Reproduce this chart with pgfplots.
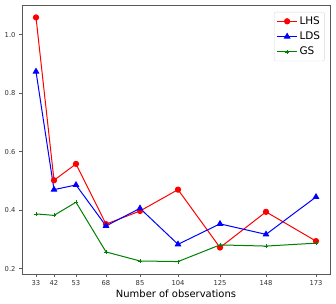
\documentclass[border=0pt]{standalone}
\usepackage{pgfplots}
\pgfplotsset{compat=1.18}
\usepackage{fontspec}
\setmainfont{DejaVu Sans}
\definecolor{mplgreen}{rgb}{0,0.5,0}
\definecolor{framegray}{rgb}{0.35,0.35,0.35}
\begin{document}
\begin{tikzpicture}
\useasboundingbox (-22bp,-30bp) rectangle (314bp,274bp);
\begin{axis}[
  at={(0,0)}, anchor=south west,
  scale only axis, width=308bp, height=269bp,
  xmin=26, xmax=180, ymin=0.1815, ymax=1.1015,
  xtick={33,42,53,68,85,104,125,148,173},
  ytick={0.2,0.4,0.6,0.8,1.0},
  yticklabel style={/pgf/number format/.cd,fixed,fixed zerofill,precision=1},
  /pgf/number format/assume math mode=true,
  tick label style={font=\fontsize{6.8}{7}\selectfont, text=black!80},
  xlabel={Number of observations},
  xlabel style={font=\fontsize{10}{12}\selectfont, yshift=3bp},
  tick align=outside, tick pos=left,
  major tick length=3bp,
  axis line style={framegray, line width=0.8bp},
  every tick/.style={framegray, line width=0.6bp},
  legend style={at={(0.983,0.974)}, anchor=north east, font=\fontsize{10.5}{12}\selectfont,
    draw=black!15, rounded corners=2bp, inner sep=2.5bp, row sep=2bp,
    nodes={inner sep=2bp}},
  legend image code/.code={
    \draw[mark repeat=2,mark phase=2] plot coordinates {(0cm,0cm) (0.35cm,0cm) (0.7cm,0cm)};},
  legend cell align=left,
  every axis plot/.append style={line width=1bp},
]
\addplot[red, mark=*, mark size=2.6bp] coordinates {
(33,1.059) (42,0.502) (53,0.558) (68,0.352) (85,0.397) (104,0.470) (125,0.272) (148,0.394) (173,0.294)};
\addlegendentry{LHS}
\addplot[blue, mark=triangle*, mark size=3bp] coordinates {
(33,0.874) (42,0.470) (53,0.486) (68,0.346) (85,0.406) (104,0.283) (125,0.353) (148,0.317) (173,0.445)};
\addlegendentry{LDS}
\addplot[mplgreen, mark=+, mark size=2bp, mark options={line width=0.6bp}] coordinates {
(33,0.387) (42,0.382) (53,0.427) (68,0.257) (85,0.226) (104,0.224) (125,0.281) (148,0.277) (173,0.287)};
\addlegendentry{GS}
\end{axis}
\end{tikzpicture}
\end{document}
